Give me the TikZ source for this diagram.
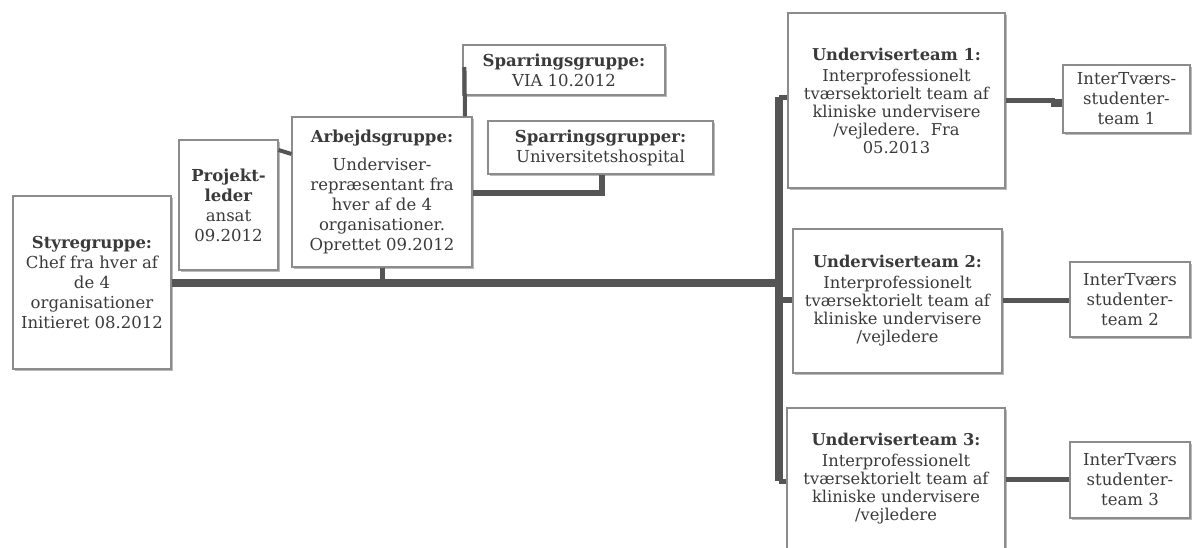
\documentclass[tikz,border=0pt]{standalone}
\usepackage{fontspec}
\setmainfont{DejaVu Serif}
\usetikzlibrary{shadows}
\definecolor{boxgray}{HTML}{8C8C8C}
\definecolor{conngray}{HTML}{555555}
\definecolor{txt}{HTML}{3A3A3A}
\begin{document}
\begin{tikzpicture}[x=1pt,y=-1pt,
  box/.style={draw=boxgray, line width=1.1pt, fill=white, align=center, inner sep=0pt, text=txt,
    drop shadow={shadow xshift=1.5pt, shadow yshift=-2pt, fill=black!45, opacity=0.6}},
  fbig/.style={font=\fontsize{16.5}{20}\selectfont},
  fmid/.style={font=\fontsize{16.3}{18}\selectfont},
  conn/.style={draw=conngray, line width=#1}]
\useasboundingbox (0,0) rectangle (1192,547);
% boxes
\node[box, fbig, minimum width=158, minimum height=173] (sty) at (92,282.5)
  {\textbf{Styregruppe:}\\Chef fra hver af\\de 4\\organisationer\\Initieret 08.2012};
\node[box, fbig, minimum width=99, minimum height=130] (pl) at (228.5,205)
  {\textbf{Projekt-}\\\textbf{leder}\\ansat\\09.2012};
\node[box, fbig, minimum width=180, minimum height=150] (arb) at (382,192)
  {\textbf{Arbejdsgruppe:}\\[8pt]Underviser-\\repræsentant fra\\hver af de 4\\organisationer.\\Oprettet 09.2012};
\node[box, fbig, minimum width=202, minimum height=50] (via) at (564,70)
  {\textbf{Sparringsgruppe:}\\VIA 10.2012};
\node[box, fbig, minimum width=225, minimum height=53] (uni) at (600.5,147.5)
  {\textbf{Sparringsgrupper:}\\Universitetshospital};
\node[box, fmid, minimum width=217, minimum height=175] (ut1) at (896.5,100.5)
  {\textbf{Underviserteam 1:}\\[3pt]Interprofessionelt\\tværsektorielt team af\\kliniske undervisere\\/vejledere.\ \ Fra\\05.2013};
\node[box, fmid, minimum width=209, minimum height=144] (ut2) at (897.5,301)
  {\textbf{Underviserteam 2:}\\[3pt]Interprofessionelt\\tværsektorielt team af\\kliniske undervisere\\/vejledere};
\node[box, fmid, minimum width=218, minimum height=141] (ut3) at (896,478.5)
  {\textbf{Underviserteam 3:}\\[3pt]Interprofessionelt\\tværsektorielt team af\\kliniske undervisere\\/vejledere};
\node[box, fbig, minimum width=127, minimum height=68] (it1) at (1126.5,99)
  {InterTværs-\\studenter-\\team 1};
\node[box, fbig, minimum width=120, minimum height=75] (it2) at (1130,299.5)
  {InterTværs\\studenter-\\team 2};
\node[box, fbig, minimum width=120, minimum height=76] (it3) at (1130,480)
  {InterTværs\\studenter-\\team 3};
% connector points
\coordinate (jn) at (779,283);
\coordinate (bustop) at (779,97);
\coordinate (busbot) at (779,481);
\coordinate (step1) at (1055,100);
% main line and bus
\draw[conn=8pt] (sty.east |- jn) -- (jn);
\draw[conn=8pt] (bustop) -- (busbot);
\draw[conn=5pt] (bustop) -- (ut1.west |- bustop);
\draw[conn=6pt] (779,300) -- (ut2.west |- 0,300);
\draw[conn=5pt] (busbot) -- (ut3.west |- busbot);
% left group
\draw[conn=5pt] (arb.south) -- (arb.south |- jn);
\draw[conn=4pt] (pl.east |- 0,150) -- (arb.west |- 0,154);
\draw[conn=4pt] (via.west |- 0,67) ++(2,0) -- (arb.north -| 465,0);
\draw[conn=6pt] (uni.south -| 602,0) -- (602,193) -- (arb.east |- 0,193);
% right group
\draw[conn=5pt] (ut1.east |- step1) -- (step1);
\draw[conn=8pt] (1051,103) -- (it1.west |- 0,103);
\draw[conn=5pt] (ut2.east |- 0,300) -- (it2.west |- 0,300);
\draw[conn=5pt] (ut3.east |- 0,479) -- (it3.west |- 0,479);
\end{tikzpicture}
\end{document}
